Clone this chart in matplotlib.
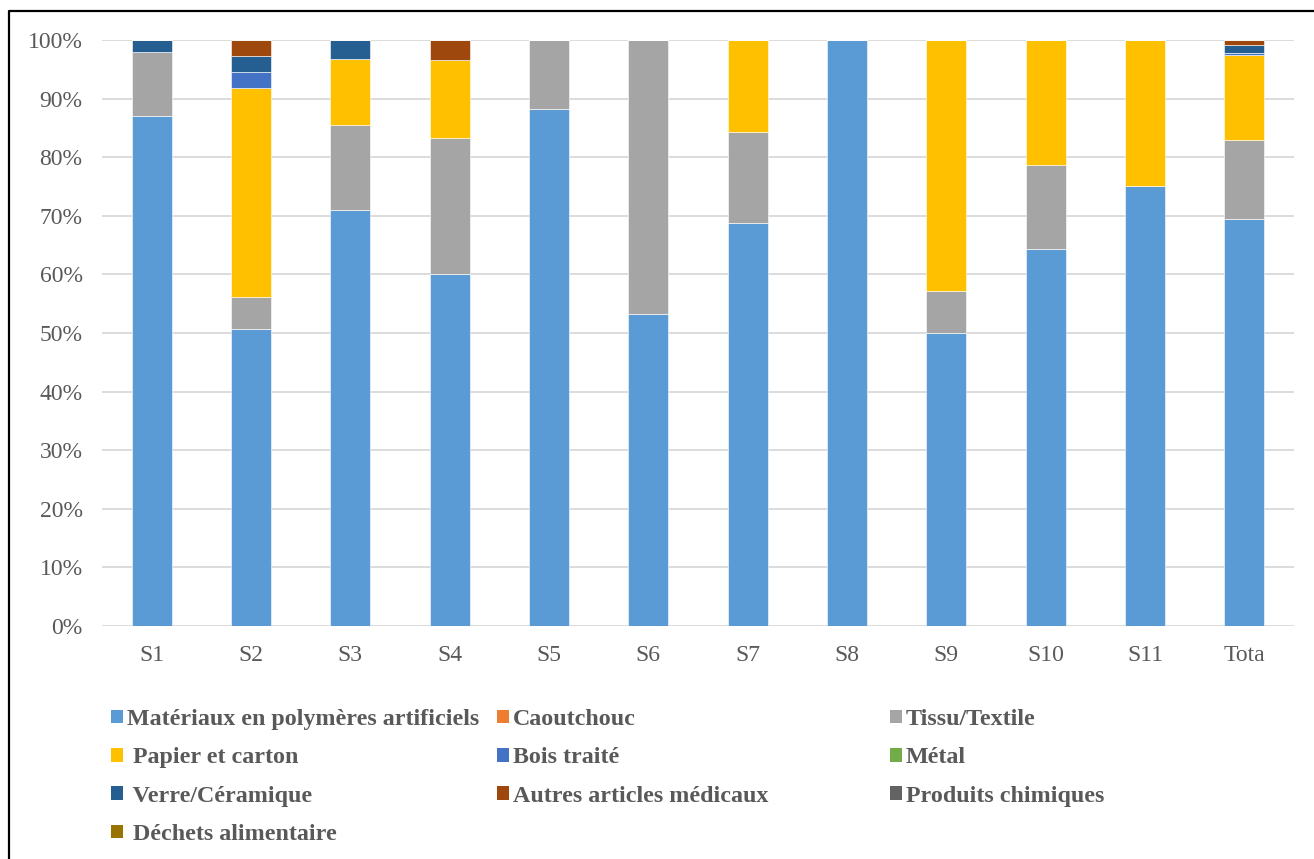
import matplotlib
matplotlib.use("Agg")
import matplotlib.pyplot as plt
from matplotlib.lines import Line2D
from matplotlib.patches import Patch
import numpy as np

categories = ["S1", "S2", "S3", "S4", "S5", "S6", "S7", "S8", "S9", "S10", "S11", "Tota"]
series_names = ["Matériaux en polymères artificiels", "Caoutchouc", "Tissu/Textile",
                " Papier et carton", "Bois traité", "Métal",
                " Verre/Céramique", "Autres articles médicaux", "Produits chimiques",
                " Déchets alimentaire"]
polymeres = [87.0, 50.6, 71.0, 60.0, 88.2, 53.3, 68.75, 100.0, 50.0, 64.3, 75.0, 69.4]
caoutchouc = [0] * 12
tissu = [11.0, 5.6, 14.5, 23.3, 11.8, 46.7, 15.6, 0, 7.1, 14.3, 0, 13.6]
papier = [0, 35.6, 11.3, 13.3, 0, 0, 15.65, 0, 42.9, 21.4, 25.0, 14.5]
bois = [0, 2.8, 0, 0, 0, 0, 0, 0, 0, 0, 0, 0.3]
metal = [0] * 12
verre = [2.0, 2.7, 3.2, 0, 0, 0, 0, 0, 0, 0, 0, 1.4]
autres = [0, 2.7, 0, 3.4, 0, 0, 0, 0, 0, 0, 0, 0.8]
chimiques = [0] * 12
dechets = [0] * 12

series = [polymeres, caoutchouc, tissu, papier, bois, metal, verre, autres, chimiques, dechets]
colors = ["#5B9BD5", "#ED7D31", "#A5A5A5", "#FFC000", "#4472C4", "#70AD47",
          "#255E91", "#9E480E", "#636363", "#997300"]

plt.rcParams['font.family'] = ['Liberation Serif', 'DejaVu Serif']
W, H = 1314, 859
fig = plt.figure(figsize=(W / 100, H / 100), dpi=100)
ax = fig.add_axes([102 / W, 1 - 626 / H, (1294 - 102) / W, (626 - 40) / H])

x = np.arange(len(categories))
bottom = np.zeros(len(categories))
for vals, c in zip(series, colors):
    v = np.array(vals, dtype=float)
    ax.bar(x, v, width=0.4, bottom=bottom, color=c, edgecolor="white", linewidth=0.4, zorder=3)
    bottom += v

ax.set_xlim(-0.5, len(categories) - 0.5)
ax.set_ylim(0, 100)
ax.set_yticks(np.arange(0, 101, 10))
ax.set_yticklabels([f"{t}%" for t in range(0, 101, 10)])
ax.set_xticks(x)
ax.set_xticklabels(categories)
ax.tick_params(axis='both', length=0, labelsize=17, colors="#595959")
ax.tick_params(axis='y', pad=14)
ax.tick_params(axis='x', pad=14)
ax.yaxis.grid(True, color="#D9D9D9", linewidth=1.3, zorder=0)
ax.set_axisbelow(True)
for s in ax.spines.values():
    s.set_visible(False)

# legend in three columns (row-wise order)
col_x = [111, 497, 890]
for ci in range(3):
    idx = list(range(ci, len(series_names), 3))
    handles = [Patch(facecolor=colors[i], edgecolor='none') for i in idx]
    labels = [series_names[i] for i in idx]
    leg = fig.legend(handles, labels, loc='upper left',
                     bbox_to_anchor=(col_x[ci] / W, 1 - 709 / H),
                     frameon=False, borderpad=0, borderaxespad=0,
                     handlelength=0.5, handleheight=0.5, handletextpad=0.15,
                     labelspacing=0.72,
                     prop={'family': 'Liberation Serif', 'weight': 'bold', 'size': 17.3})
    for t in leg.get_texts():
        t.set_color("#595959")

# outer border (top and left)
fig.add_artist(Line2D([8.5 / W, 8.5 / W, 1], [0, 1 - 10.5 / H, 1 - 10.5 / H],
                      transform=fig.transFigure, color="black", linewidth=1.6))

fig.savefig("out.png", dpi=100)
